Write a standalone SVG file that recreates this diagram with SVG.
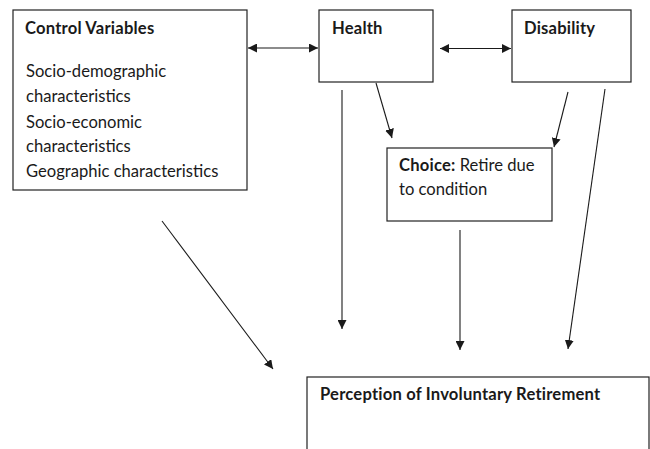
<svg xmlns="http://www.w3.org/2000/svg" width="650" height="449" viewBox="0 0 650 449">
<style>
.box{fill:#fff;stroke:#222;stroke-width:1.2}
.t{font-family:Lato,"Open Sans","Liberation Sans",sans-serif;font-size:16.6px;fill:#1a1a1a}
.b{font-weight:bold;letter-spacing:0.2px}
.c{stroke:#1a1a1a;stroke-width:1.1;fill:none}
</style>
<defs>
<marker id="ah" viewBox="0 0 10 10" refX="10" refY="5" markerWidth="9" markerHeight="9" markerUnits="userSpaceOnUse" orient="auto-start-reverse">
<path d="M0,0 L10,5 L0,10 z" fill="#1a1a1a"/>
</marker>
</defs>
<rect width="650" height="449" fill="#fff"/>
<g id="control">
<rect class="box" x="13" y="10" width="234" height="180"/>
<text class="t b" x="25" y="33.5">Control Variables</text>
<text class="t" x="26" y="77">Socio-demographic</text>
<text class="t" x="26" y="102">characteristics</text>
<text class="t" x="26" y="128">Socio-economic</text>
<text class="t" x="26" y="152">characteristics</text>
<text class="t" x="26" y="177">Geographic characteristics</text>
</g>
<g id="health">
<rect class="box" x="319" y="10" width="114" height="72"/>
<text class="t b" x="332" y="33.5">Health</text>
</g>
<g id="disability">
<rect class="box" x="512" y="10" width="119" height="72"/>
<text class="t b" x="524" y="33.5">Disability</text>
</g>
<g id="choice">
<rect class="box" x="387" y="148" width="165" height="73"/>
<text class="t" x="399" y="171"><tspan class="b">Choice:</tspan> Retire due</text>
<text class="t" x="399" y="195">to condition</text>
</g>
<g id="perception">
<rect class="box" x="307" y="377" width="342" height="90"/>
<text class="t b" x="320" y="400">Perception of Involuntary Retirement</text>
</g>
<g id="connectors">
<line class="c" x1="248" y1="48" x2="318" y2="48" marker-start="url(#ah)" marker-end="url(#ah)"/>
<line class="c" x1="440" y1="48.5" x2="511" y2="48.5" marker-start="url(#ah)" marker-end="url(#ah)"/>
<line class="c" x1="376" y1="83" x2="392" y2="138" marker-end="url(#ah)"/>
<line class="c" x1="568" y1="92" x2="554" y2="147" marker-end="url(#ah)"/>
<line class="c" x1="342" y1="90" x2="342" y2="329" marker-end="url(#ah)"/>
<line class="c" x1="605" y1="89" x2="568" y2="349" marker-end="url(#ah)"/>
<line class="c" x1="460" y1="230" x2="460" y2="350" marker-end="url(#ah)"/>
<line class="c" x1="162" y1="221" x2="273" y2="369" marker-end="url(#ah)"/>
</g>
</svg>
